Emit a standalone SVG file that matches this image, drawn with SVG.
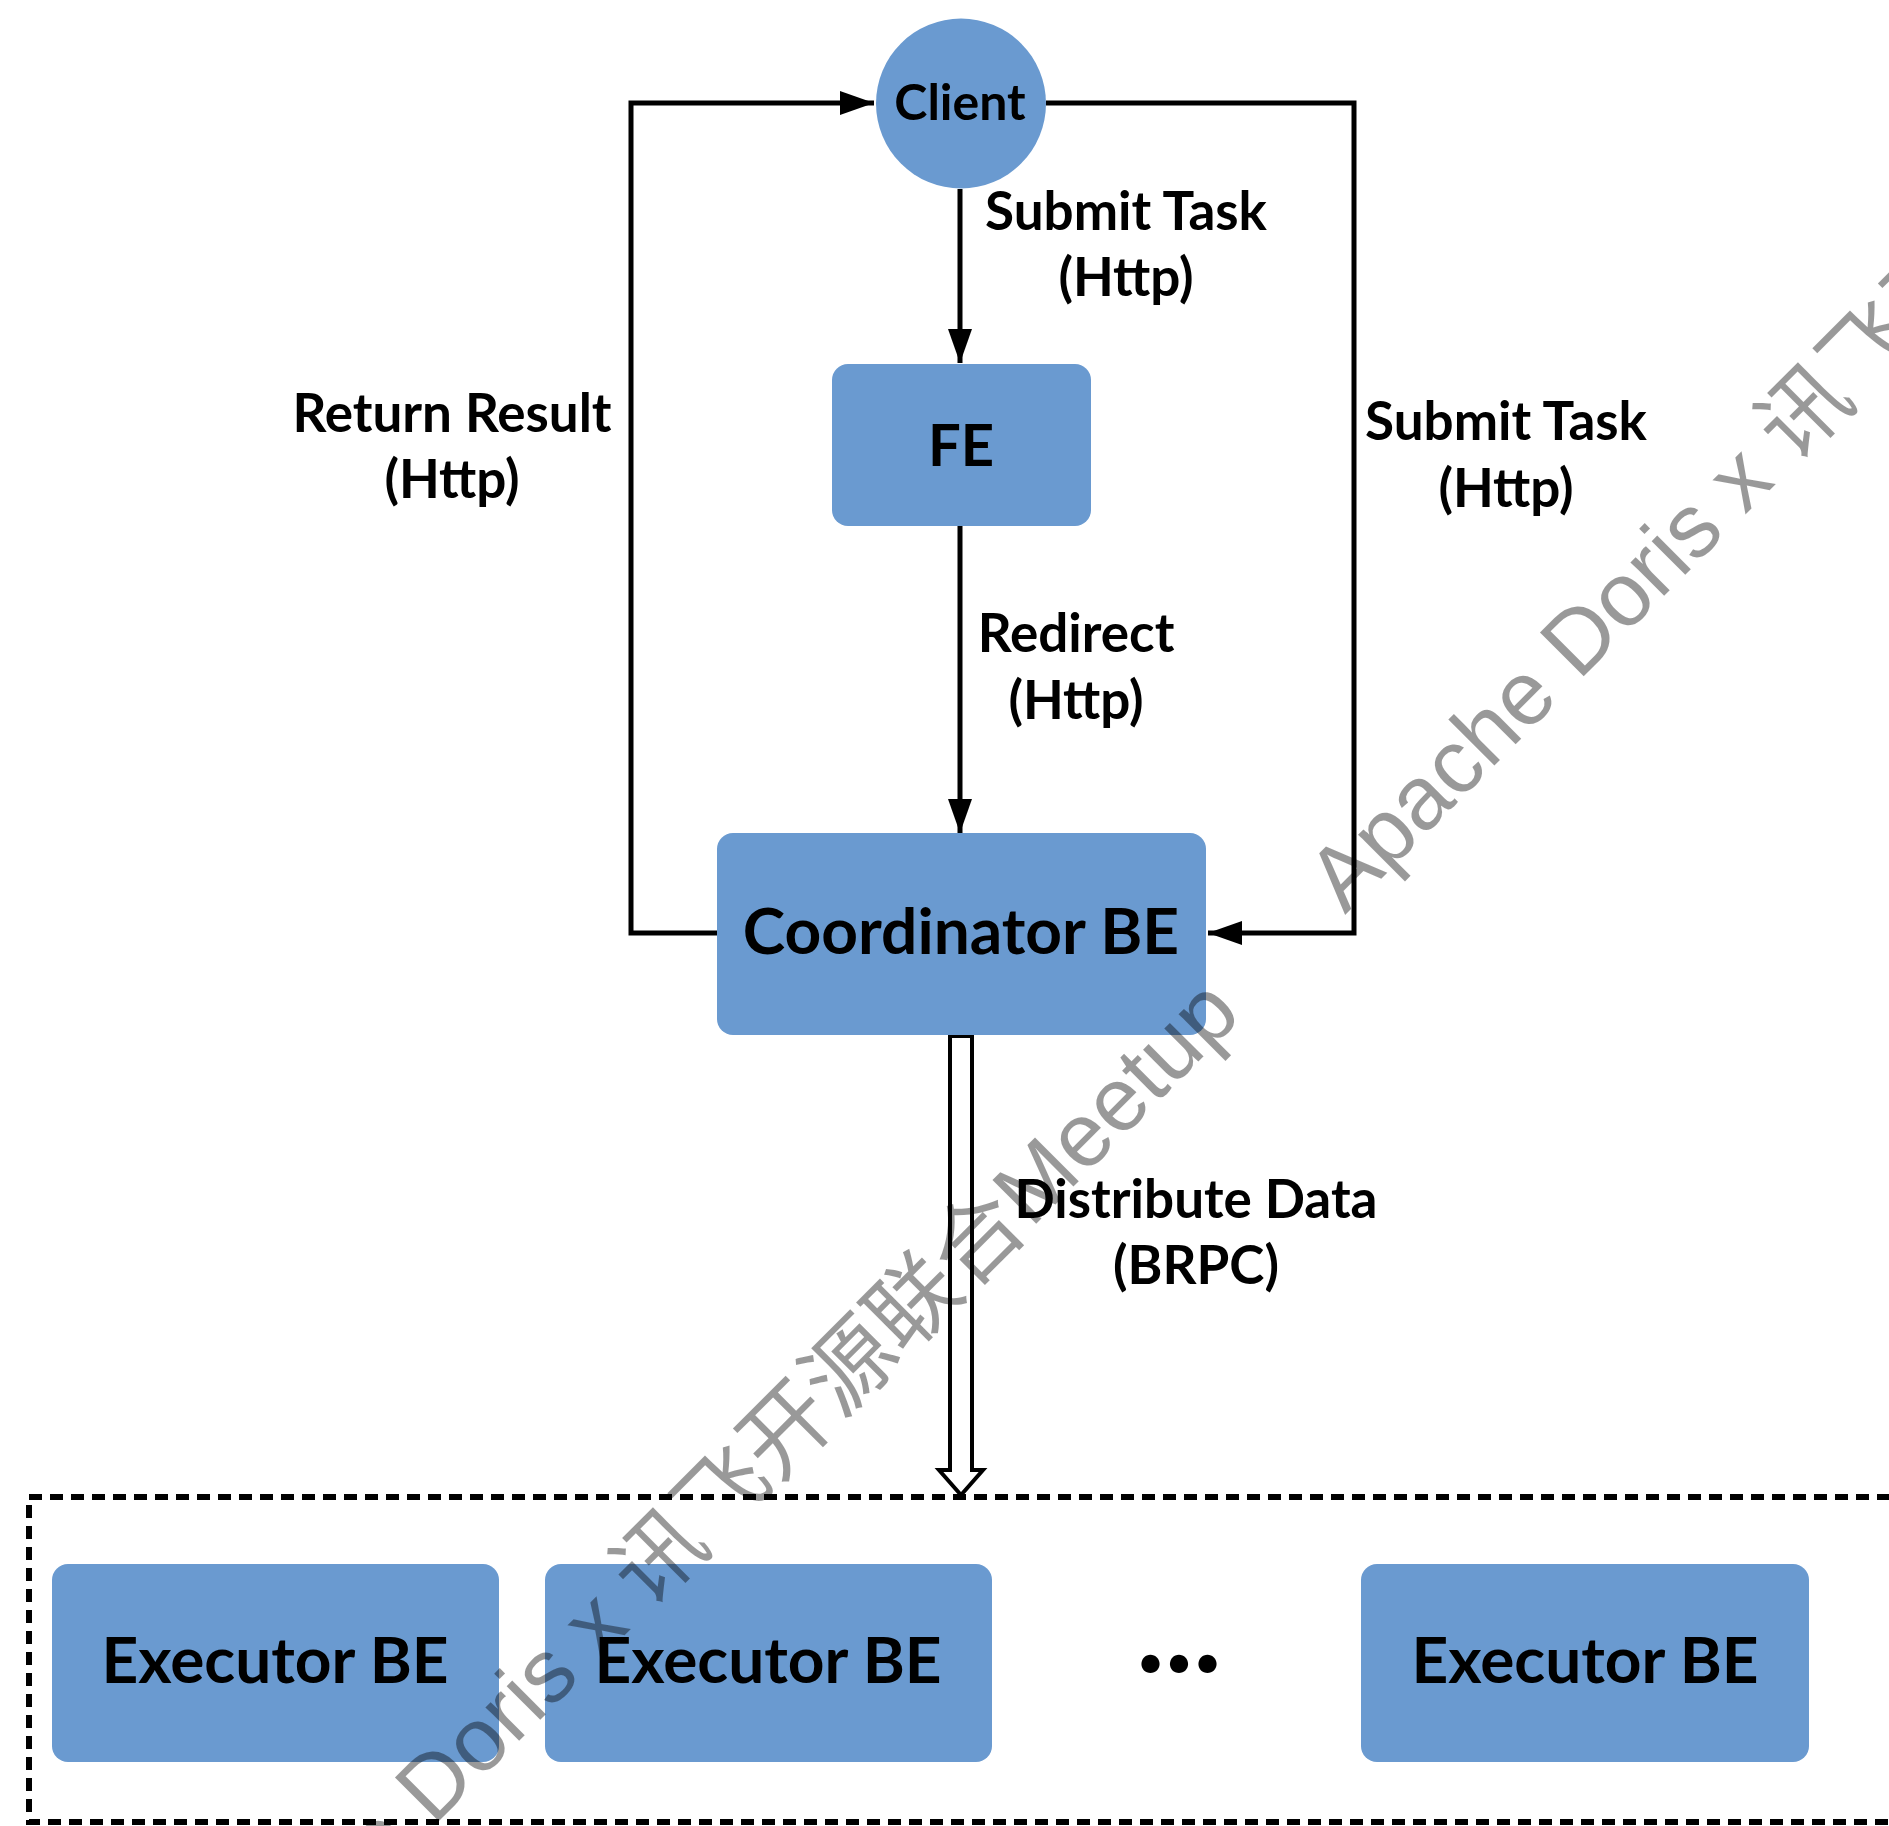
<svg xmlns="http://www.w3.org/2000/svg" width="1889" height="1826" viewBox="0 0 1889 1826">
<defs>
<style>
.node{fill:#6A9AD0;}
.nt{font-family:Lato,"Liberation Sans",sans-serif;font-weight:bold;fill:#000;text-anchor:middle;}
.lb{font-family:Lato,"Liberation Sans",sans-serif;font-weight:bold;font-size:53px;fill:#000;text-anchor:middle;}
.conn{fill:none;stroke:#000;stroke-width:5;}
.wm{font-family:"Liberation Sans","Noto Sans CJK SC",sans-serif;font-size:90px;fill:#000;fill-opacity:0.4;}
</style>
<marker id="arr" viewBox="0 0 34 24" refX="34" refY="12" markerWidth="34" markerHeight="24" markerUnits="userSpaceOnUse" orient="auto">
<path d="M0,0 L34,12 L0,24 Z" fill="#000"/>
</marker>
</defs>
<rect width="1889" height="1826" fill="#fff"/>
<g id="executors-group">
<rect x="29" y="1497" width="1880" height="325" fill="none" stroke="#000" stroke-width="6" stroke-dasharray="13 8"/>
</g>
<g id="connectors">
<path class="conn" d="M717,933 H631 V103 H874" marker-end="url(#arr)"/>
<path class="conn" d="M1046,103 H1354 V933 H1208" marker-end="url(#arr)"/>
<path class="conn" d="M960,189 V363" marker-end="url(#arr)"/>
<path class="conn" d="M960,526 V833" marker-end="url(#arr)"/>
<path d="M950,1036 H972 V1470 H983 L961,1495 L939,1470 H950 Z" fill="#fff" stroke="#000" stroke-width="4" stroke-linejoin="miter"/>
</g>
<g id="labels">
<text class="lb" x="1126" y="230">Submit Task</text>
<text class="lb" x="1126" y="296">(Http)</text>
<text class="lb" x="452" y="432">Return Result</text>
<text class="lb" x="452" y="498">(Http)</text>
<text class="lb" x="1506" y="440">Submit Task</text>
<text class="lb" x="1506" y="507">(Http)</text>
<text class="lb" x="1076" y="652">Redirect</text>
<text class="lb" x="1076" y="719">(Http)</text>
<text class="lb" x="1196" y="1218">Distribute Data</text>
<text class="lb" x="1196" y="1284">(BRPC)</text>
</g>
<g id="client">
<circle class="node" cx="961" cy="103.5" r="85"/>
<text class="nt" x="960" y="120" font-size="50">Client</text>
</g>
<g id="fe">
<rect class="node" x="832" y="364" width="259" height="162" rx="16"/>
<text class="nt" x="961" y="466" font-size="58">FE</text>
</g>
<g id="coordinator-be">
<rect class="node" x="717" y="833" width="489" height="202" rx="16"/>
<text class="nt" x="961" y="954" font-size="64">Coordinator BE</text>
</g>
<g id="executor-be-1">
<rect class="node" x="52" y="1564" width="447" height="198" rx="16"/>
<text class="nt" x="275" y="1683" font-size="64">Executor BE</text>
</g>
<g id="executor-be-2">
<rect class="node" x="545" y="1564" width="447" height="198" rx="16"/>
<text class="nt" x="768" y="1683" font-size="64">Executor BE</text>
</g>
<g id="ellipsis">
<text class="nt" x="1179" y="1672" font-size="120">...</text>
</g>
<g id="executor-be-3">
<rect class="node" x="1361" y="1564" width="448" height="198" rx="16"/>
<text class="nt" x="1585" y="1683" font-size="64">Executor BE</text>
</g>
<g id="watermark">
<text class="wm" transform="translate(200,2060) rotate(-45)">Apache Doris x 讯飞开源联合Meetup</text>
<text class="wm" transform="translate(1345,915) rotate(-45)">Apache Doris x 讯飞开源联合Meetup</text>
</g>
</svg>
